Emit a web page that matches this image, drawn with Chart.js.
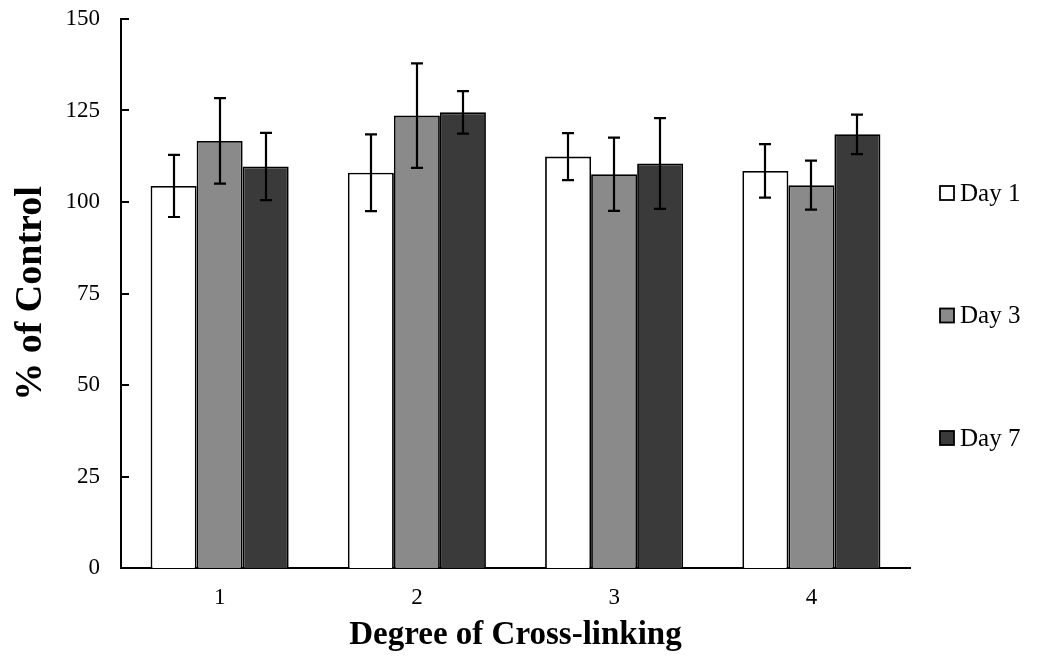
<!DOCTYPE html>
<html>
<head>
<meta charset="utf-8">
<script src="https://cdn.jsdelivr.net/npm/chart.js@4.4.1/dist/chart.umd.min.js"></script>
<style>
	html, body { margin: 0; padding: 0; background: #ffffff; }
	#wrap { width: 1042px; height: 657px; }
</style>
</head>
<body>
<div id="wrap"><canvas id="crossChart" width="1042" height="657"></canvas></div>
<script>
// values
let categories = ["1", "2", "3", "4"];
let seriesNames = ["Day 1", "Day 3", "Day 7"];
let day1 = [104.4, 108.0, 112.4, 108.5];
let day3 = [116.7, 123.6, 107.6, 104.6];
let day7 = [109.7, 124.5, 110.5, 118.5];
let err1 = [8.5, 10.5, 6.4, 7.3];
let err3 = [11.7, 14.3, 10.0, 6.7];
let err7 = [9.2, 5.8, 12.4, 5.4];
let yTicks = [0, 25, 50, 75, 100, 125, 150];

let fillColors = ["#ffffff", "#8a8a8a", "#3a3a3a"];
let serif = "'Liberation Serif', 'Times New Roman', serif";

// error bars over every bar
let errorBars = {
	id: "errorBars",
	afterDatasetsDraw: function (chart) {
		let ctx = chart.ctx;
		let yScale = chart.scales.y;
		ctx.save();
		ctx.strokeStyle = "#000000";
		ctx.lineWidth = 2.2;
		chart.data.datasets.forEach(function (ds, i) {
			let meta = chart.getDatasetMeta(i);
			meta.data.forEach(function (bar, j) {
				let top = yScale.getPixelForValue(ds.data[j] + ds.errors[j]);
				let bot = yScale.getPixelForValue(ds.data[j] - ds.errors[j]);
				let x = Math.round(bar.x);
				ctx.beginPath();
				ctx.moveTo(x, top);
				ctx.lineTo(x, bot);
				ctx.moveTo(x - 6, top);
				ctx.lineTo(x + 6, top);
				ctx.moveTo(x - 6, bot);
				ctx.lineTo(x + 6, bot);
				ctx.stroke();
			});
		});
		ctx.restore();
	}
};

// tick marks on the inner side of the y axis
let innerTicks = {
	id: "innerTicks",
	afterDraw: function (chart) {
		let ctx = chart.ctx;
		let yScale = chart.scales.y;
		let left = chart.chartArea.left;
		ctx.save();
		ctx.strokeStyle = "#000000";
		ctx.lineWidth = 2;
		yScale.ticks.forEach(function (t) {
			let y = Math.round(yScale.getPixelForValue(t.value));
			ctx.beginPath();
			ctx.moveTo(left - 1, y);
			ctx.lineTo(left + 8, y);
			ctx.stroke();
		});
		ctx.restore();
	}
};

// legend on the right, spaced like the original
let sideLegend = {
	id: "sideLegend",
	afterDraw: function (chart) {
		let ctx = chart.ctx;
		let area = chart.chartArea;
		ctx.save();
		ctx.font = "25px " + serif;
		ctx.textBaseline = "middle";
		ctx.textAlign = "left";
		chart.data.datasets.forEach(function (ds, i) {
			let x = area.right + 30;
			let y = area.top + 174 + i * 122.5;
			ctx.fillStyle = ds.backgroundColor;
			ctx.fillRect(x, y - 7, 14, 14);
			ctx.strokeStyle = "#000000";
			ctx.lineWidth = 1.8;
			ctx.strokeRect(x, y - 7, 14, 14);
			ctx.fillStyle = "#000000";
			ctx.fillText(ds.label, x + 20, y + 1);
		});
		ctx.restore();
	}
};

let chartCross = new Chart(document.getElementById("crossChart"), {
	type: "bar",
	data: {
		labels: categories,
		datasets: [
			{
				label: seriesNames[0],
				data: day1,
				errors: err1,
				backgroundColor: fillColors[0],
				borderColor: "#000000",
				borderWidth: 1.8
			}, {
				label: seriesNames[1],
				data: day3,
				errors: err3,
				backgroundColor: fillColors[1],
				borderColor: "#000000",
				borderWidth: 1.8
			}, {
				label: seriesNames[2],
				data: day7,
				errors: err7,
				backgroundColor: fillColors[2],
				borderColor: "#000000",
				borderWidth: 1.8
			}
		]
	},
	options: {
		responsive: false,
		animation: false,
		events: [],
		categoryPercentage: 0.7,
		barPercentage: 1.0,
		layout: {
			padding: { top: 0, right: 132, bottom: 0, left: 0 }
		},
		plugins: {
			legend: { display: false },
			tooltip: { enabled: false }
		},
		scales: {
			x: {
				grid: { display: false, drawTicks: false },
				border: { display: true, color: "#000000", width: 2 },
				ticks: {
					color: "#000000",
					padding: 16,
					font: { family: serif, size: 23 }
				},
				title: {
					display: true,
					text: "Degree of Cross-linking",
					color: "#000000",
					padding: { top: 0, bottom: 2 },
					font: { family: serif, size: 33, weight: "bold" }
				},
				afterFit: function (scale) {
					scale.height = 89;
				}
			},
			y: {
				min: 0,
				max: 150,
				afterBuildTicks: function (scale) {
					scale.ticks = yTicks.map(function (v) { return { value: v }; });
				},
				grid: { display: false, drawTicks: false },
				border: { display: true, color: "#000000", width: 2 },
				ticks: {
					color: "#000000",
					padding: 21,
					font: { family: serif, size: 23 }
				},
				title: {
					display: true,
					text: "% of Control",
					color: "#000000",
					padding: { top: 8, bottom: 0 },
					font: { family: serif, size: 38, weight: "bold" }
				},
				afterFit: function (scale) {
					scale.width = 121;
					// top of the plot sits at y = 19 like the original
					scale.paddingTop = 19;
					scale.paddingBottom = 0;
				}
			}
		}
	},
	plugins: [errorBars, innerTicks, sideLegend]
});
</script>
</body>
</html>
